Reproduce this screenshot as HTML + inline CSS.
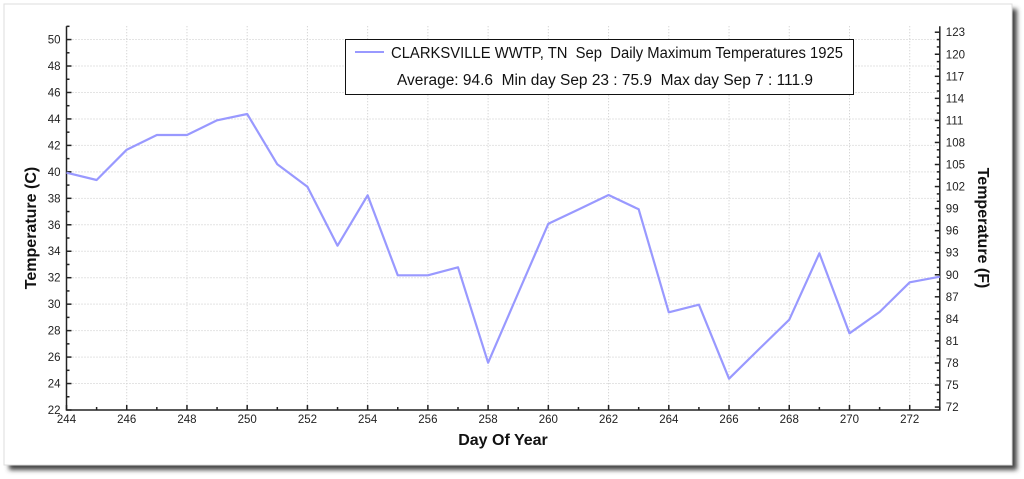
<!DOCTYPE html>
<html><head><meta charset="utf-8"><style>
html,body{margin:0;padding:0;background:#fff;width:1024px;height:479px;overflow:hidden}
svg{display:block;font-family:"Liberation Sans",sans-serif}
</style></head><body>
<svg width="1024" height="479" viewBox="0 0 1024 479">
<defs><filter id="sh" x="-5%" y="-5%" width="110%" height="115%"><feGaussianBlur stdDeviation="2.5"/></filter></defs>
<rect x="9" y="9" width="1008" height="461" fill="#444" filter="url(#sh)"/>
<rect x="4" y="4" width="1008" height="461" fill="#fff" stroke="#ddd"/>
<g id="grid" stroke="#c8c8c8" stroke-dasharray="1,2" stroke-width="1"></g>
<g id="ax" stroke="#222" stroke-width="1.5" fill="none"></g>
<g id="lab" font-size="11.5" fill="#222"></g>
<polyline id="ln" fill="none" stroke="#9999ff" stroke-width="2.2" stroke-linejoin="round"/>
<rect x="345.5" y="39.5" width="508" height="55" fill="#fff" stroke="#111" stroke-width="1"/>
<line x1="355" y1="52" x2="384" y2="52" stroke="#9999ff" stroke-width="2"/>
<text x="391" y="58" font-size="15.5" fill="#111" xml:space="preserve" textLength="452" lengthAdjust="spacingAndGlyphs">CLARKSVILLE WWTP, TN  Sep  Daily Maximum Temperatures 1925</text>
<text x="397" y="85" font-size="15.5" fill="#111" xml:space="preserve" textLength="416" lengthAdjust="spacingAndGlyphs">Average: 94.6  Min day Sep 23 : 75.9  Max day Sep 7 : 111.9</text>
<text transform="translate(36,228) rotate(-90)" text-anchor="middle" font-size="16" font-weight="bold" fill="#111">Temperature (C)</text>
<text transform="translate(978,228) rotate(90)" text-anchor="middle" font-size="16" font-weight="bold" fill="#111">Temperature (F)</text>
<text x="503" y="445" text-anchor="middle" font-size="16" font-weight="bold" fill="#111">Day Of Year</text>
</svg>
<script>
const NS="http://www.w3.org/2000/svg";
const L=66.5,R=939.8,B=410,T=26.3;
const X=d=>L+(d-244)*30.115, Y=c=>B-(c-22)*13.23;
function el(p,t,a,txt){const e=document.createElementNS(NS,t);for(const k in a)e.setAttribute(k,a[k]);if(txt!=null)e.textContent=txt;document.getElementById(p).appendChild(e);}
for(let d=246;d<=272;d+=2)el("grid","line",{x1:X(d),x2:X(d),y1:T,y2:B});
for(let c=24;c<=50;c+=2)el("grid","line",{x1:L,x2:R,y1:Y(c),y2:Y(c)});
el("ax","polyline",{points:`${L},${T} ${L},${B} ${R},${B} ${R},${T}`});
for(let c=22;c<=51;c++){const m=c%2==0;el("ax","line",{x1:L,x2:L+(m?5:3),y1:Y(c),y2:Y(c)});if(m)el("lab","text",{x:L-6,y:Y(c)+4,"text-anchor":"end"},c);}
for(let d=244;d<=273;d++){const m=d%2==0;el("ax","line",{x1:X(d),x2:X(d),y1:B,y2:B-(m?5:3)});if(m)el("lab","text",{x:X(d),y:B+13,"text-anchor":"middle"},d);}
const YF=f=>Y((f-32)/1.8);
for(let f=72;f<=123;f++){const m=f%3==0;el("ax","line",{x1:R,x2:R-(m?5:3),y1:YF(f),y2:YF(f)});if(m)el("lab","text",{x:R+6,y:YF(f)+4},f);}
const ys=[172.7,180,149.7,135,135,120.3,114,164.3,186.7,245.7,195.3,275.3,275.3,267.3,362.7,293,223.7,209.5,195,209.3,312.3,304.7,378.7,349,319.7,253.3,333.3,312,282.3,276.7];
document.getElementById("ln").setAttribute("points",ys.map((y,i)=>X(244+i)+","+y).join(" "));
</script>
</body></html>
